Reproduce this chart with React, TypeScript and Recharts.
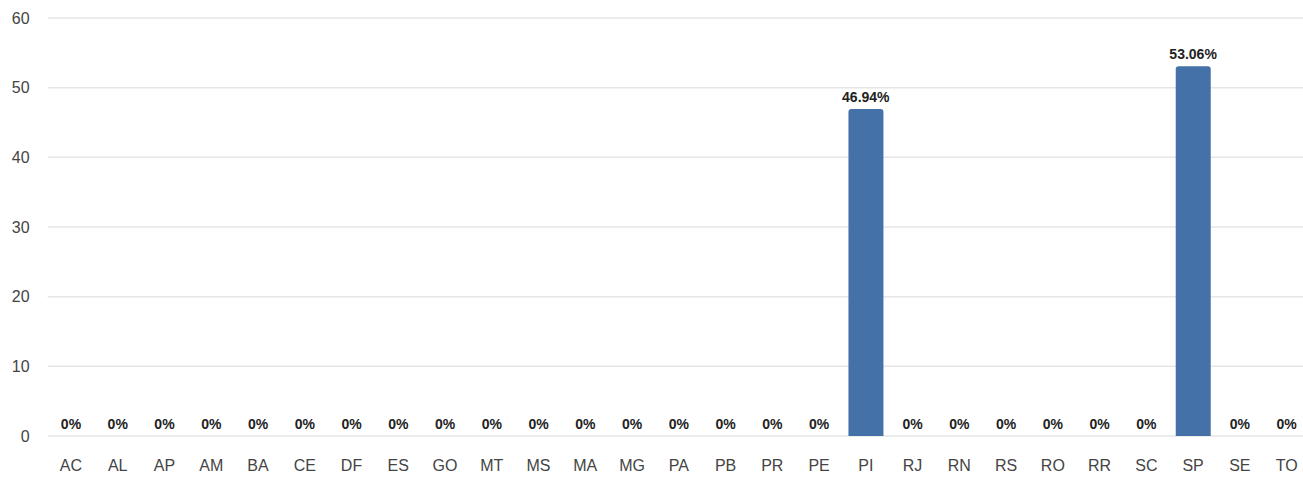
import { Bar, CartesianGrid, ComposedChart, LabelList, Line, XAxis, YAxis } from "recharts";

// ── Data ──────────────────────────────────────────────────────────────────────

const states = [
  "AC", "AL", "AP", "AM", "BA", "CE", "DF", "ES", "GO", "MT", "MS", "MA", "MG", "PA",
  "PB", "PR", "PE", "PI", "RJ", "RN", "RS", "RO", "RR", "SC", "SP", "SE", "TO",
];

const percents = [
  0, 0, 0, 0, 0, 0, 0, 0, 0, 0, 0, 0, 0, 0,
  0, 0, 0, 46.94, 0, 0, 0, 0, 0, 0, 53.06, 0, 0,
];

const yTicks = [0, 10, 20, 30, 40, 50, 60];

const data = states.map((uf, i) => ({ uf, value: percents[i] }));

// ── Chart ─────────────────────────────────────────────────────────────────────

export default function App() {
  return (
    <div
      style={{
        position: "absolute",
        left: 0,
        top: 0,
        width: 1303,
        height: 478,
        overflow: "hidden",
        background: "#fff",
        fontFamily: "'Liberation Sans', Arial, sans-serif",
      }}
    >
      <ComposedChart
        width={1312}
        height={478}
        data={data}
        margin={{ top: 18, right: 2, bottom: 2, left: 0 }}
      >
        <CartesianGrid vertical={false} stroke="#e6e6e6" strokeWidth={1.5} />
        <XAxis
          dataKey="uf"
          axisLine={false}
          tickLine={false}
          interval={0}
          height={40}
          tickMargin={18}
          tick={{ fontSize: 16, fill: "#444" }}
        />
        <YAxis
          domain={[0, 60]}
          ticks={yTicks}
          width={47.6}
          axisLine={false}
          tickLine={false}
          tickMargin={12}
          tick={{ fontSize: 16, fill: "#444" }}
        />
        <Bar
          dataKey="value"
          fill="#4472a8"
          barSize={35}
          radius={[3, 3, 0, 0]}
          isAnimationActive={false}
        />
        {/* invisible line carrying the value labels, so 0% labels show too */}
        <Line
          dataKey="value"
          stroke="none"
          dot={false}
          activeDot={false}
          isAnimationActive={false}
        >
          <LabelList
            dataKey="value"
            position="top"
            offset={7}
            formatter={(v: number) => `${v}%`}
            style={{ fontSize: 14, fontWeight: 700, fill: "#222" }}
          />
        </Line>
      </ComposedChart>
    </div>
  );
}
